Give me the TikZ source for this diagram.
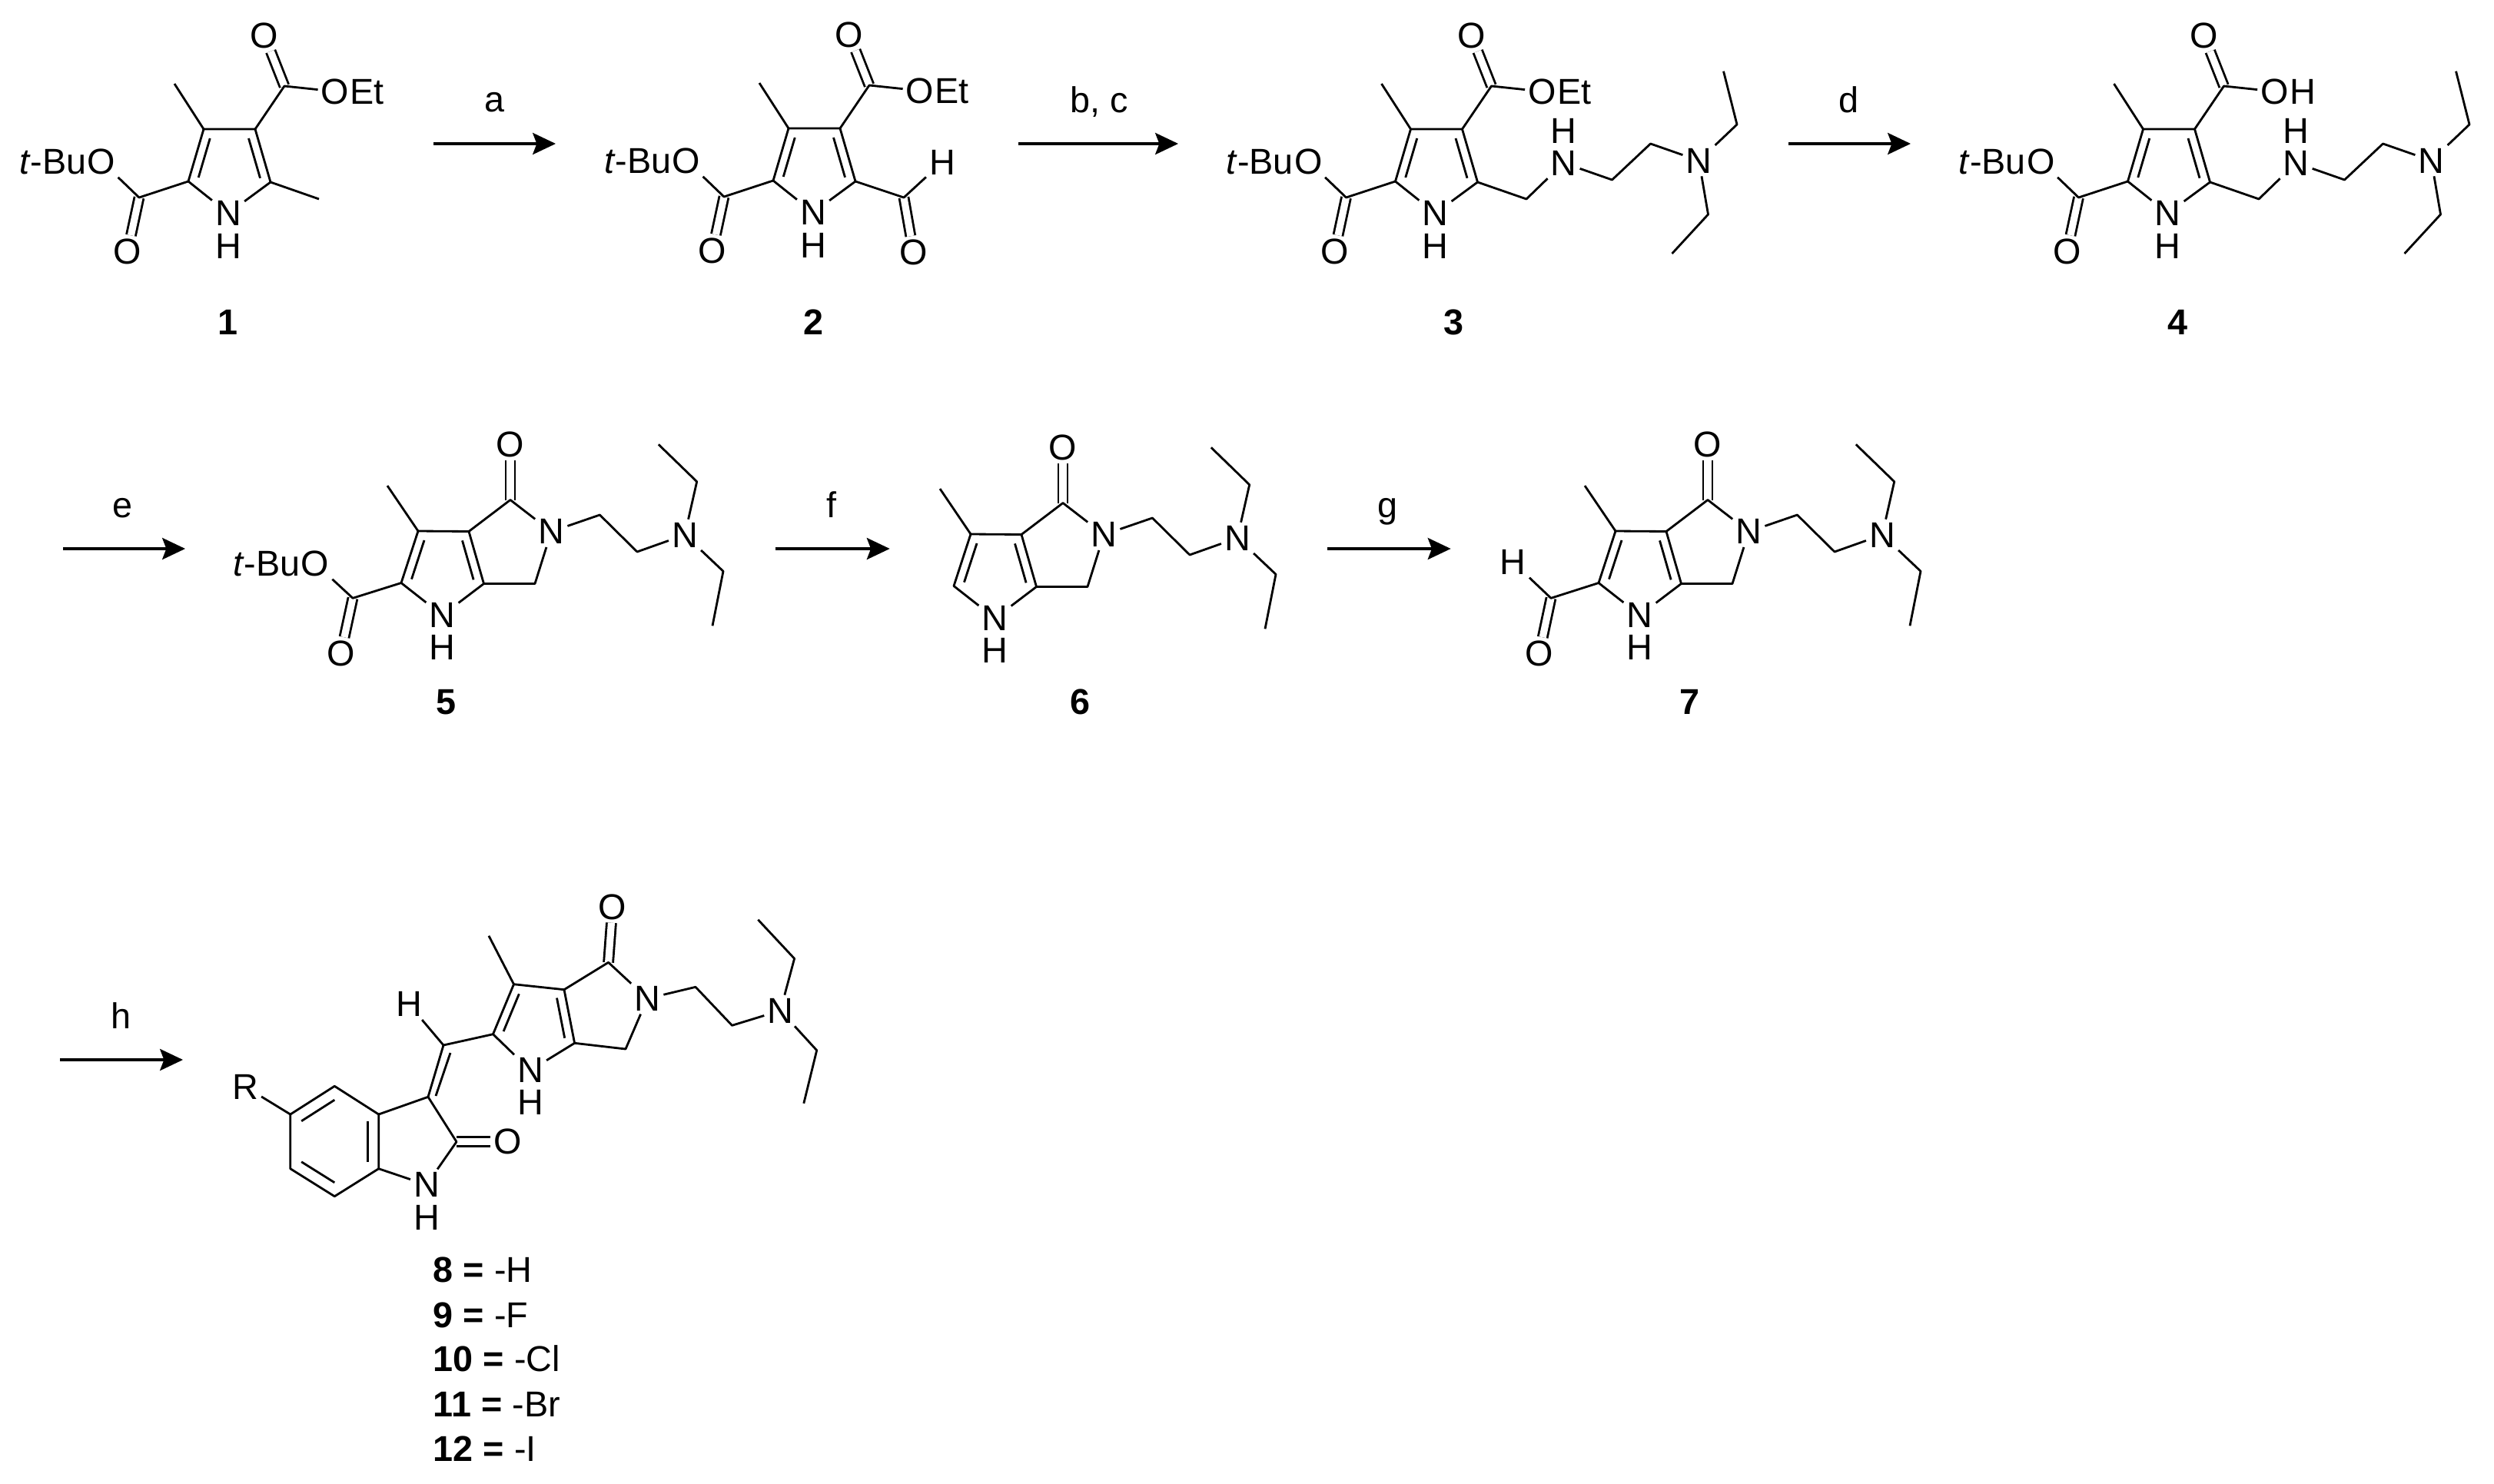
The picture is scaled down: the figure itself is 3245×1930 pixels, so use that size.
\documentclass[tikz,border=0pt]{standalone}
\usepackage{fontspec}
\setmainfont{Liberation Sans}
\usetikzlibrary{arrows.meta,calc,positioning}

\tikzset{
	bond/.style={black, line width=0.8pt, line join=round},
	dblbond/.style={black, line width=0.8pt, double, double distance=2.6pt},
	rxn/.style={black, line width=0.9pt, -{Stealth[length=8.5pt,width=8pt,inset=1.5pt]}},
	atom/.style={inner sep=1pt, font=\fontsize{13.3}{16}\selectfont},
	side/.style={inner sep=0pt, font=\fontsize{13.3}{16}\selectfont},
	tag/.style={inner sep=0pt, anchor=base, font=\fontsize{13.3}{16}\selectfont},
	entry/.style={inner sep=0pt, anchor=base west, font=\fontsize{13.3}{16}\selectfont},
}

\newcommand{\ringdbl}[3]{\draw[bond] ($(#1)!.25!(#3)$) -- ($(#2)!.25!(#3)$);}

\newcommand{\pyrrole}[1]{
	\coordinate (c3) at (265,168);
	\coordinate (c4) at (332,168);
	\coordinate (c5) at (352,237);
	\coordinate (c2) at (245,236);
	\coordinate (ctr) at (298,216);
	\coordinate (me3) at (227,109);
	\coordinate (ce) at (370,112);
	\coordinate (cb) at (181,257);
	\node[atom] (n1) at (297,277.5) {N};
	\node[atom] (h1) at (297,320) {H};
	\node[atom] (o1) at (344,46) {O};
	\node[atom] (o2) at (436,119) {O};
	\node[side, base right=-1pt of o2] (r2) {#1};
	\node[atom] (o3) at (166,327) {O};
	\node[atom] (o4) at (132,210) {O};
	\node[side, base left=-1pt of o4] (tbu) {\textit{t}-Bu};
	\draw[dblbond] (ce) -- (o1);
	\draw[dblbond] (cb) -- (o3);
	\draw[bond] (n1) -- (c2) -- (c3) -- (c4) -- (c5) -- (n1);
	\ringdbl{c3}{c2}{ctr}
	\ringdbl{c4}{c5}{ctr}
	\draw[bond] (c3) -- (me3);
	\draw[bond] (c4) -- (ce) -- (o2);
	\draw[bond] (c2) -- (cb) -- (o4);
}

\newcommand{\aminochain}{
	\coordinate (ch1) at (415.5,259);
	\coordinate (ch2) at (527,234);
	\coordinate (ch3) at (577,187);
	\coordinate (et1) at (689.5,162);
	\coordinate (et2) at (672,92.7);
	\coordinate (et3) at (652,279);
	\coordinate (et4) at (605,330);
	\node[atom] (n2) at (464,212) {N};
	\node[atom] (h2) at (464,170) {H};
	\node[atom] (n3) at (640,209) {N};
	\draw[bond] (c5) -- (ch1) -- (n2) -- (ch2) -- (ch3) -- (n3);
	\draw[bond] (n3) -- (et1) -- (et2);
	\draw[bond] (n3) -- (et3) -- (et4);
}

\newcommand{\lactam}{
	\coordinate (c3) at (544,691);
	\coordinate (c3a) at (610,691.5);
	\coordinate (c6a) at (629.5,759.5);
	\coordinate (c2) at (522,758.5);
	\coordinate (ctr) at (576,739);
	\coordinate (me3) at (504,632);
	\coordinate (c4) at (664,650.5);
	\coordinate (c6) at (696,759.5);
	\coordinate (ch1) at (780.4,670);
	\coordinate (ch2) at (829,718);
	\coordinate (et1) at (906.7,626.7);
	\coordinate (et2) at (856.8,578.3);
	\coordinate (et3) at (941,743.3);
	\coordinate (et4) at (927,814.3);
	\node[atom] (n1) at (575.5,800.5) {N};
	\node[atom] (h1) at (575.5,842) {H};
	\node[atom] (o1) at (664,578.3) {O};
	\node[atom] (n2) at (717.3,691.7) {N};
	\node[atom] (n3) at (891,696) {N};
	\draw[dblbond] (c4) -- (o1);
	\draw[bond] (n1) -- (c2) -- (c3) -- (c3a) -- (c6a) -- (n1);
	\ringdbl{c3}{c2}{ctr}
	\ringdbl{c3a}{c6a}{ctr}
	\draw[bond] (c3) -- (me3);
	\draw[bond] (c3a) -- (c4) -- (n2) -- (c6) -- (c6a);
	\draw[bond] (n2) -- (ch1) -- (ch2) -- (n3);
	\draw[bond] (n3) -- (et1) -- (et2);
	\draw[bond] (n3) -- (et3) -- (et4);
}

\begin{document}
\begin{tikzpicture}[x=0.01cm,y=-0.01cm]
	\useasboundingbox (0,0) rectangle (3245,1930);

	% top row
	\begin{scope}[name prefix=a-]
		\pyrrole{Et}
		\coordinate (me5) at (415,259);
		\draw[bond] (c5) -- (me5);
	\end{scope}
	\begin{scope}[shift={(761,-1)},name prefix=b-]
		\pyrrole{Et}
		\coordinate (cf) at (415,258);
		\node[atom] (hf) at (465,212) {H};
		\node[atom] (of) at (427.5,329) {O};
		\draw[dblbond] (cf) -- (of);
		\draw[bond] (c5) -- (cf) -- (hf);
	\end{scope}
	\begin{scope}[shift={(1570.5,0)},name prefix=c-]
		\pyrrole{Et}
		\aminochain
	\end{scope}
	\begin{scope}[shift={(2523.5,0)},name prefix=d-]
		\pyrrole{H}
		\aminochain
	\end{scope}

	\coordinate (arra1) at (564,187);
	\coordinate (arra2) at (723,187);
	\draw[rxn] (arra1) -- (arra2);
	\node[tag] (laba) at (643,145) {a};
	\coordinate (arrb1) at (1325,187);
	\coordinate (arrb2) at (1533,187);
	\draw[rxn] (arrb1) -- (arrb2);
	\node[tag] (labb) at (1430,146) {b, c};
	\coordinate (arrd1) at (2327,187);
	\coordinate (arrd2) at (2486,187);
	\draw[rxn] (arrd1) -- (arrd2);
	\node[tag] (labd) at (2405,146) {d};

	\node[tag] (cmp1) at (297,435) {\textbf{1}};
	\node[tag] (cmp2) at (1058,435) {\textbf{2}};
	\node[tag] (cmp3) at (1891,435) {\textbf{3}};
	\node[tag] (cmp4) at (2833,435) {\textbf{4}};

	% middle row
	\begin{scope}[name prefix=e-]
		\lactam
		\coordinate (cb) at (459,778.3);
		\node[atom] (o3) at (443.5,850) {O};
		\node[atom] (o4) at (410,733) {O};
		\node[side, base left=-1pt of o4] (tbu) {\textit{t}-Bu};
		\draw[dblbond] (cb) -- (o3);
		\draw[bond] (c2) -- (cb) -- (o4);
	\end{scope}
	\begin{scope}[shift={(719,4)},name prefix=f-]
		\lactam
	\end{scope}
	\begin{scope}[shift={(1558,0)},name prefix=g-]
		\lactam
		\coordinate (cf) at (460,778.3);
		\node[atom] (of) at (444.8,850) {O};
		\node[atom] (hf) at (410.8,731.7) {H};
		\draw[dblbond] (cf) -- (of);
		\draw[bond] (c2) -- (cf) -- (hf);
	\end{scope}

	\coordinate (arre1) at (82,714);
	\coordinate (arre2) at (241,714);
	\draw[rxn] (arre1) -- (arre2);
	\node[tag] (labe) at (160,673) {e};
	\coordinate (arrf1) at (1008.7,714);
	\coordinate (arrf2) at (1157.7,714);
	\draw[rxn] (arrf1) -- (arrf2);
	\node[tag] (labf) at (1081.6,673) {f};
	\coordinate (arrg1) at (1727.4,714);
	\coordinate (arrg2) at (1887.6,714);
	\draw[rxn] (arrg1) -- (arrg2);
	\node[tag] (labg) at (1805,673) {g};

	\node[tag] (cmp5) at (580.7,929) {\textbf{5}};
	\node[tag] (cmp6) at (1405.6,929) {\textbf{6}};
	\node[tag] (cmp7) at (2198,929) {\textbf{7}};

	% bottom row
	\begin{scope}[name prefix=h-]
		\coordinate (c3) at (668.5,1280.7);
		\coordinate (c3a) at (734,1287.7);
		\coordinate (c6a) at (747.6,1357.3);
		\coordinate (c2) at (641.5,1345.7);
		\coordinate (ctr) at (696,1331);
		\coordinate (me3) at (636,1217.7);
		\coordinate (c4) at (791.6,1252.3);
		\coordinate (c6) at (814,1365);
		\coordinate (ch1) at (905,1284.3);
		\coordinate (ch2) at (952.5,1334.3);
		\coordinate (et1) at (1033.6,1247.3);
		\coordinate (et2) at (986.3,1196.7);
		\coordinate (et3) at (1062.7,1366.7);
		\coordinate (et4) at (1045.8,1435.7);
		\coordinate (cm) at (577,1360);
		\coordinate (cmi1) at (586,1370);
		\coordinate (cmi2) at (567,1426);
		\coordinate (i3) at (557,1427.3);
		\coordinate (i2) at (594,1485.7);
		\coordinate (i3a) at (492.7,1450);
		\coordinate (i4) at (435.3,1413.3);
		\coordinate (i5) at (377.8,1450);
		\coordinate (i6) at (377.8,1520.7);
		\coordinate (i7) at (435.3,1556.7);
		\coordinate (i7a) at (492.7,1520.7);
		\coordinate (ictr) at (435.3,1485);
		\node[atom] (n1) at (690,1392.7) {N};
		\node[atom] (h1) at (690,1434) {H};
		\node[atom] (o1) at (797,1180) {O};
		\node[atom] (n2) at (842.3,1299.3) {N};
		\node[atom] (n3) at (1015.4,1315) {N};
		\node[atom] (hm) at (532,1306.7) {H};
		\node[atom] (rg) at (319,1414) {R};
		\node[atom] (o2) at (660.4,1485.7) {O};
		\node[atom] (n4) at (555,1541.7) {N};
		\node[atom] (h4) at (555,1584) {H};
		\draw[dblbond] (c4) -- (o1);
		\draw[dblbond] (i2) -- (o2);
		\draw[bond] (n1) -- (c2) -- (c3) -- (c3a) -- (c6a) -- (n1);
		\ringdbl{c3}{c2}{ctr}
		\ringdbl{c3a}{c6a}{ctr}
		\draw[bond] (c3) -- (me3);
		\draw[bond] (c3a) -- (c4) -- (n2) -- (c6) -- (c6a);
		\draw[bond] (n2) -- (ch1) -- (ch2) -- (n3);
		\draw[bond] (n3) -- (et1) -- (et2);
		\draw[bond] (n3) -- (et3) -- (et4);
		\draw[bond] (c2) -- (cm) -- (hm);
		\draw[bond] (cm) -- (i3);
		\draw[bond] (cmi1) -- (cmi2);
		\draw[bond] (i3a) -- (i4) -- (i5) -- (i6) -- (i7) -- (i7a) -- cycle;
		\ringdbl{i4}{i5}{ictr}
		\ringdbl{i3a}{i7a}{ictr}
		\ringdbl{i6}{i7}{ictr}
		\draw[bond] (i5) -- (rg);
		\draw[bond] (i3a) -- (i3) -- (i2) -- (n4) -- (i7a);
	\end{scope}

	\coordinate (arrh1) at (78,1379);
	\coordinate (arrh2) at (238,1379);
	\draw[rxn] (arrh1) -- (arrh2);
	\node[tag] (labh) at (158,1338) {h};

	\node[entry] (cmp8) at (563,1668) {\textbf{8 =} -H};
	\node[entry] (cmp9) at (563,1727) {\textbf{9 =} -F};
	\node[entry] (cmp10) at (563,1784) {\textbf{10 =} -Cl};
	\node[entry] (cmp11) at (563,1843) {\textbf{11 =} -Br};
	\node[entry] (cmp12) at (563,1901) {\textbf{12 =} -I};
\end{tikzpicture}
\end{document}
